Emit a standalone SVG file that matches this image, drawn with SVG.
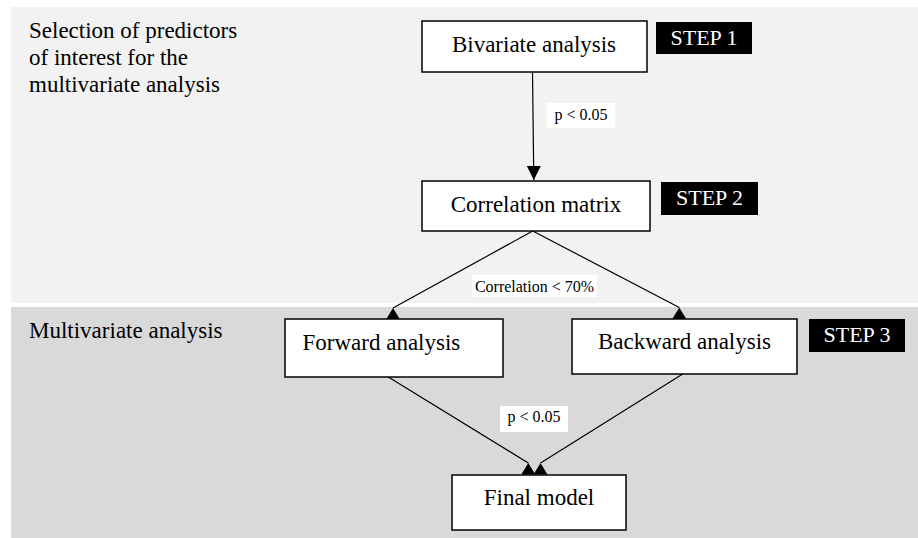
<svg xmlns="http://www.w3.org/2000/svg" width="918" height="538" viewBox="0 0 918 538">
<style>
text{font-family:"Liberation Serif","Times New Roman",serif;fill:#000}
.box{fill:#fff;stroke:#000;stroke-width:1.5}
.big{font-size:23px}
.mid{text-anchor:middle}
.step rect{fill:#000}
.step text{fill:#fff;font-size:22px;text-anchor:middle}
.lbl rect{fill:#fff}
.lbl text{font-size:16px;text-anchor:middle}
.conn line{stroke:#000;stroke-width:1.2}
</style>
<defs>
<marker id="up" markerUnits="userSpaceOnUse" markerWidth="20" markerHeight="20" refX="10" refY="2" orient="0" viewBox="0 0 20 20">
<path d="M10,2 L3,13.5 L17,13.5 Z" fill="#000"/>
</marker>
<marker id="down" markerUnits="userSpaceOnUse" markerWidth="20" markerHeight="20" refX="10" refY="16" orient="0" viewBox="0 0 20 20">
<path d="M10,16 L3,2 L17,2 Z" fill="#000"/>
</marker>
</defs>
<rect x="0" y="0" width="918" height="538" fill="#fff"/>
<rect x="11" y="7" width="907" height="296" fill="#f2f2f2"/>
<rect x="11" y="307" width="907" height="231" fill="#d9d9d9"/>
<g id="panel-labels" class="big">
<text x="29" y="38">Selection of predictors</text>
<text x="29" y="65">of interest for the</text>
<text x="29" y="92">multivariate analysis</text>
<text x="29" y="338">Multivariate analysis</text>
</g>
<g id="connectors" class="conn">
<line x1="532.5" y1="72" x2="533.8" y2="180" marker-end="url(#down)"/>
<line x1="532.7" y1="231" x2="393" y2="308" marker-end="url(#up)"/>
<line x1="532.7" y1="231" x2="679.3" y2="307.5" marker-end="url(#up)"/>
<line x1="388.3" y1="377" x2="528.3" y2="463" marker-end="url(#up)"/>
<line x1="682.7" y1="374" x2="540.5" y2="463" marker-end="url(#up)"/>
</g>
<g id="label-p1" class="lbl"><rect x="547" y="103" width="68" height="25"/><text x="581" y="120">p &lt; 0.05</text></g>
<g id="label-corr" class="lbl"><rect x="472" y="275" width="125" height="22"/><text x="534.5" y="291.5">Correlation &lt; 70%</text></g>
<g id="label-p2" class="lbl"><rect x="500" y="406" width="68" height="26"/><text x="534" y="422">p &lt; 0.05</text></g>
<g id="bivariate"><rect class="box" x="422" y="21" width="225" height="51"/><text class="big mid" x="534" y="52">Bivariate analysis</text></g>
<g id="correlation"><rect class="box" x="422" y="181" width="228" height="50"/><text class="big mid" x="536" y="212">Correlation matrix</text></g>
<g id="forward"><rect class="box" x="285" y="319" width="218" height="58"/><text class="big" x="302.5" y="350">Forward analysis</text></g>
<g id="backward"><rect class="box" x="572" y="319" width="225" height="55"/><text class="big mid" x="684.5" y="348.5">Backward analysis</text></g>
<g id="final"><rect class="box" x="452" y="475" width="174" height="55"/><text class="big mid" x="539" y="505">Final model</text></g>
<g id="step1" class="step"><rect x="656" y="22" width="96" height="32"/><text x="704" y="45">STEP 1</text></g>
<g id="step2" class="step"><rect x="661" y="182" width="97" height="33"/><text x="709.5" y="204.5">STEP 2</text></g>
<g id="step3" class="step"><rect x="809" y="319" width="96" height="33"/><text x="857" y="342">STEP 3</text></g>
</svg>
